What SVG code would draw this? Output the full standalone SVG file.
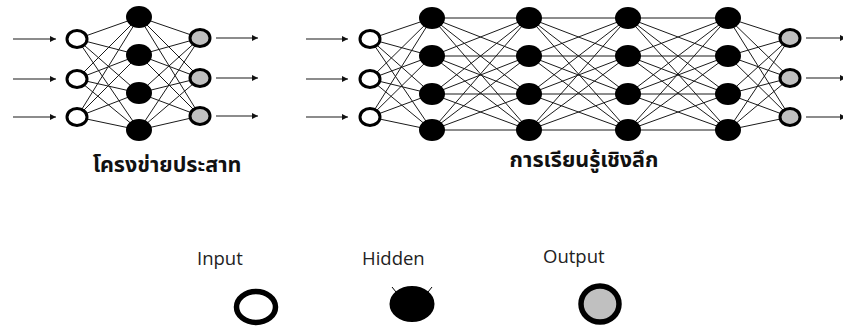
<svg xmlns="http://www.w3.org/2000/svg" width="843" height="329" viewBox="0 0 843 329">
<style>
.ln{stroke:#1a1a1a;stroke-width:1;fill:none}
.ar{stroke:#1a1a1a;stroke-width:1.2;fill:none;marker-end:url(#ah)}
.in{fill:#fff;stroke:#000;stroke-width:3}
.hd{fill:#000}
.out{fill:#c0c0c0;stroke:#000;stroke-width:3}
.ttl{font-family:"Noto Sans Thai","Noto Sans","DejaVu Sans",sans-serif;font-weight:bold;font-size:21.5px;fill:#111}
.lg{font-family:"Open Sans","Noto Sans",sans-serif;font-size:18.5px;fill:#222}
</style>
<defs>
<marker id="ah" viewBox="0 0 10 10" refX="10" refY="5" markerWidth="9" markerHeight="6" markerUnits="userSpaceOnUse" orient="auto"><path d="M0,0L10,5L0,10z" fill="#111"/></marker>
</defs>
<g id="connectors">
<path class="ln" d="M77 39L139 17M77 39L139 55M77 39L139 93M77 39L139 130M77 79L139 17M77 79L139 55M77 79L139 93M77 79L139 130M77 117L139 17M77 117L139 55M77 117L139 93M77 117L139 130"/>
<path class="ln" d="M139 17L200 38M139 17L200 78M139 17L200 116M139 55L200 38M139 55L200 78M139 55L200 116M139 93L200 38M139 93L200 78M139 93L200 116M139 130L200 38M139 130L200 78M139 130L200 116"/>
<path class="ar" d="M13 39H56"/>
<path class="ar" d="M13 79H56"/>
<path class="ar" d="M13 117H56"/>
<path class="ar" d="M216 38H258"/>
<path class="ar" d="M216 78H258"/>
<path class="ar" d="M216 116H258"/>
<path class="ln" d="M370 39L432 18M370 39L432 56M370 39L432 94M370 39L432 130M370 79L432 18M370 79L432 56M370 79L432 94M370 79L432 130M370 117L432 18M370 117L432 56M370 117L432 94M370 117L432 130"/>
<path class="ln" d="M432 18L529 18M432 18L529 56M432 18L529 94M432 18L529 130M432 56L529 18M432 56L529 56M432 56L529 94M432 56L529 130M432 94L529 18M432 94L529 56M432 94L529 94M432 94L529 130M432 130L529 18M432 130L529 56M432 130L529 94M432 130L529 130"/>
<path class="ln" d="M529 18L628 18M529 18L628 56M529 18L628 94M529 18L628 130M529 56L628 18M529 56L628 56M529 56L628 94M529 56L628 130M529 94L628 18M529 94L628 56M529 94L628 94M529 94L628 130M529 130L628 18M529 130L628 56M529 130L628 94M529 130L628 130"/>
<path class="ln" d="M628 18L728 18M628 18L728 56M628 18L728 94M628 18L728 130M628 56L728 18M628 56L728 56M628 56L728 94M628 56L728 130M628 94L728 18M628 94L728 56M628 94L728 94M628 94L728 130M628 130L728 18M628 130L728 56M628 130L728 94M628 130L728 130"/>
<path class="ln" d="M728 18L790 38M728 18L790 78M728 18L790 117M728 56L790 38M728 56L790 78M728 56L790 117M728 94L790 38M728 94L790 78M728 94L790 117M728 130L790 38M728 130L790 78M728 130L790 117"/>
<path class="ar" d="M306 39H348"/>
<path class="ar" d="M306 79H348"/>
<path class="ar" d="M306 117H348"/>
<path class="ar" d="M806 38H846"/>
<path class="ar" d="M806 78H846"/>
<path class="ar" d="M806 117H846"/>
</g>
<g id="nn-input"><ellipse class="in" cx="77" cy="39" rx="10" ry="8.5"/><ellipse class="in" cx="77" cy="79" rx="10" ry="8.5"/><ellipse class="in" cx="77" cy="117" rx="10" ry="8.5"/></g>
<g id="nn-hidden"><ellipse class="hd" cx="139" cy="17" rx="13" ry="11"/><ellipse class="hd" cx="139" cy="55" rx="13" ry="11"/><ellipse class="hd" cx="139" cy="93" rx="13" ry="11"/><ellipse class="hd" cx="139" cy="130" rx="13" ry="11"/></g>
<g id="nn-output"><ellipse class="out" cx="200" cy="38" rx="10" ry="8.5"/><ellipse class="out" cx="200" cy="78" rx="10" ry="8.5"/><ellipse class="out" cx="200" cy="116" rx="10" ry="8.5"/></g>
<g id="nn-title"><text class="ttl" x="167" y="172" text-anchor="middle">โครงข่ายประสาท</text></g>
<g id="dl-input"><ellipse class="in" cx="370" cy="39" rx="10" ry="8.5"/><ellipse class="in" cx="370" cy="79" rx="10" ry="8.5"/><ellipse class="in" cx="370" cy="117" rx="10" ry="8.5"/></g>
<g id="dl-hidden1"><ellipse class="hd" cx="432" cy="18" rx="13" ry="11"/><ellipse class="hd" cx="432" cy="56" rx="13" ry="11"/><ellipse class="hd" cx="432" cy="94" rx="13" ry="11"/><ellipse class="hd" cx="432" cy="130" rx="13" ry="11"/></g>
<g id="dl-hidden2"><ellipse class="hd" cx="529" cy="18" rx="13" ry="11"/><ellipse class="hd" cx="529" cy="56" rx="13" ry="11"/><ellipse class="hd" cx="529" cy="94" rx="13" ry="11"/><ellipse class="hd" cx="529" cy="130" rx="13" ry="11"/></g>
<g id="dl-hidden3"><ellipse class="hd" cx="628" cy="18" rx="13" ry="11"/><ellipse class="hd" cx="628" cy="56" rx="13" ry="11"/><ellipse class="hd" cx="628" cy="94" rx="13" ry="11"/><ellipse class="hd" cx="628" cy="130" rx="13" ry="11"/></g>
<g id="dl-hidden4"><ellipse class="hd" cx="728" cy="18" rx="13" ry="11"/><ellipse class="hd" cx="728" cy="56" rx="13" ry="11"/><ellipse class="hd" cx="728" cy="94" rx="13" ry="11"/><ellipse class="hd" cx="728" cy="130" rx="13" ry="11"/></g>
<g id="dl-output"><ellipse class="out" cx="790" cy="38" rx="10" ry="8.5"/><ellipse class="out" cx="790" cy="78" rx="10" ry="8.5"/><ellipse class="out" cx="790" cy="117" rx="10" ry="8.5"/></g>
<g id="dl-title"><text class="ttl" x="584" y="167" text-anchor="middle">การเรียนรู้เชิงลึก</text></g>
<g id="legend-input"><text class="lg" x="197" y="265">Input</text><ellipse cx="256" cy="307" rx="19.5" ry="15.5" fill="#fff" stroke="#000" stroke-width="5.5"/></g>
<g id="legend-hidden"><text class="lg" x="362" y="265">Hidden</text><ellipse cx="412" cy="304" rx="22.5" ry="18" fill="#000"/><path d="M392 287l4 5M432 287l-4 5" stroke="#000" stroke-width="1"/></g>
<g id="legend-output"><text class="lg" x="543" y="263">Output</text><ellipse cx="600" cy="304" rx="19" ry="18" fill="#c0c0c0" stroke="#000" stroke-width="5.5"/></g>
</svg>
